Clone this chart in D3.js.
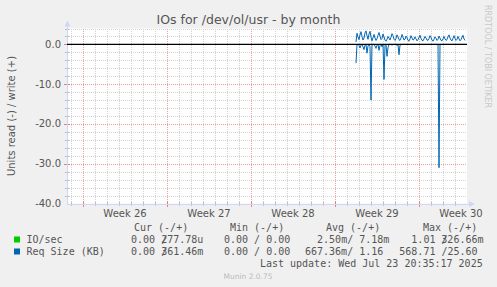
<!DOCTYPE html>
<html>
<head>
<meta charset="utf-8">
<script src="https://cdn.jsdelivr.net/npm/d3@7"></script>
<style>
  html, body { margin: 0; padding: 0; background: #f0f0f0; }
  svg { display: block; }
  .pre { white-space: pre; }
</style>
</head>
<body>
<svg id="graph" width="497" height="287"></svg>
<script>
// samples every 2 hours, starting at dataStart
const dataStart = new Date(2025, 6, 15, 18, 0);
const stepHours = 2;

// write (+) Req Size, KB
const writeVals = [
  0.6, 2.8, 1.9, 1.2, 2.4, 3.2, 2.0, 1.1, 1.6, 2.9,
  3.4, 2.2, 1.3, 2.6, 3.3, 1.8, 0.9, 1.7, 2.5, 1.6,
  1.0, 1.4, 2.3, 3.0, 2.1, 1.2, 1.5, 2.6, 1.9, 1.1,
  0.8, 1.3, 2.0, 1.6, 1.1, 1.8, 2.7, 2.2, 1.3, 1.0,
  1.5, 2.4, 1.9, 1.2, 1.0, 1.6, 2.5, 1.8, 1.1, 1.3,
  2.1, 1.7, 1.0, 0.8, 1.4, 2.2, 1.6, 1.1, 1.3, 1.9,
  1.4, 0.9, 1.2, 1.8, 2.3, 1.5, 1.0, 0.9, 1.4, 2.0,
  1.6, 1.1, 1.0, 1.5, 2.2, 1.7, 1.1, 0.8, 1.3, 1.9,
  1.5, 1.0, 1.3, 2.1, 1.6, 1.0, 0.9, 1.4, 2.0, 1.4,
  1.0, 1.2, 1.9, 2.4, 1.6, 1.1, 0.9, 1.5, 2.2, 1.5,
  1.0, 1.3, 2.0, 1.4, 0.9, 1.2, 1.8, 2.3, 1.4, 1.0
];

// read (-) Req Size, KB (drawn below zero)
const readVals = [
  4.7, 0.0, 0.0, 0.3, 0.9, 0.2, 0.0, 0.6, 1.3, 0.2,
  0.0, 2.2, 0.4, 0.0, 0.5, 14.0, 0.2, 0.0, 0.0, 0.4,
  1.0, 0.2, 0.0, 1.5, 0.3, 0.0, 0.6, 0.0, 8.8, 0.3,
  0.0, 3.0, 0.8, 0.0, 0.0, 0.0, 0.2, 0.0, 0.0, 0.0,
  0.0, 0.3, 0.0, 2.6, 0.2, 0.0, 0.0, 0.0, 0.0, 0.0,
  0.0, 0.0, 0.0, 0.0, 0.0, 0.0, 0.0, 0.0, 0.0, 0.0,
  0.0, 0.0, 0.0, 0.0, 0.0, 0.0, 0.0, 0.0, 0.0, 0.0,
  0.0, 0.0, 0.0, 0.0, 0.0, 0.0, 0.0, 0.0, 0.0, 0.0,
  0.0, 0.0, 0.0, 31.0, 0.0, 0.0, 0.0, 0.0, 0.0, 0.0,
  0.0, 0.0, 0.0, 0.0, 0.0, 0.0, 0.0, 0.0, 0.0, 0.0,
  0.0, 0.0, 0.0, 0.0, 0.0, 0.0, 0.0, 0.0, 0.0, 0.0
];

const yTicks = [0, -10, -20, -30, -40];
const legendHeaders = ["Cur (-/+)", "Min (-/+)", "Avg (-/+)", "Max (-/+)"];
const seriesNames = ["IO/sec", "Req Size (KB)"];
const seriesColors = ["#00cc00", "#0066b3"];
const curRead = ["  0.00 /", "  0.00 /"], curWrite = ["277.78u", "361.46m"];
const minCol = ["0.00 / 0.00", "0.00 / 0.00"];
const avgCol = ["2.50m/ 7.18m", "667.36m/ 1.16 "];
const maxRead = ["  1.01 /", "568.71 /"], maxWrite = ["326.66m", "25.60 "];

const svg = d3.select("#graph");
const W = 497, H = 287;
const pL = 67, pR = 467, pT = 28.5, pB = 203.5;
const sans = "DejaVu Sans, sans-serif";
const mono = "DejaVu Sans Mono, monospace";
const fontCol = "#555";

svg.append("rect").attr("width", W).attr("height", H).attr("fill", "#f0f0f0");

const x = d3.scaleTime()
  .domain([new Date(2025, 5, 21, 16, 0), new Date(2025, 6, 25, 0, 0)])
  .range([pL, pR]);
const y = d3.scaleLinear().domain([-40, 4]).range([pB, pT]);

svg.append("rect")
  .attr("x", pL).attr("y", pT)
  .attr("width", pR - pL).attr("height", pB - pT)
  .attr("fill", "#fff");

// grid
const g = svg.append("g").attr("shape-rendering", "crispEdges");
const days = d3.timeDay.range(x.domain()[0], x.domain()[1]);
const mondays = d3.timeMonday.range(x.domain()[0], x.domain()[1]);
days.filter(d => d.getDay() !== 1).forEach(d => {
  const px = Math.round(x(d)) + 0.5;
  g.append("line").attr("x1", px).attr("x2", px).attr("y1", pT).attr("y2", pB)
    .attr("stroke", "#d4d4d4").attr("stroke-dasharray", "1,1");
  g.append("line").attr("x1", px).attr("x2", px).attr("y1", pB - 2).attr("y2", pB + 2)
    .attr("stroke", "#bbb");
});
d3.range(-38, 5, 2).filter(v => v % 10 !== 0).forEach(v => {
  const py = Math.round(y(v)) + 0.5;
  g.append("line").attr("x1", pL).attr("x2", pR).attr("y1", py).attr("y2", py)
    .attr("stroke", "#d4d4d4").attr("stroke-dasharray", "1,1");
  g.append("line").attr("x1", pL - 2).attr("x2", pL + 2).attr("y1", py).attr("y2", py)
    .attr("stroke", "#bbb");
});
mondays.forEach(d => {
  const px = Math.round(x(d)) + 0.5;
  g.append("line").attr("x1", px).attr("x2", px).attr("y1", pT).attr("y2", pB)
    .attr("stroke", "#e8a0a0").attr("stroke-dasharray", "1,1");
  g.append("line").attr("x1", px).attr("x2", px).attr("y1", pB - 3).attr("y2", pB + 3)
    .attr("stroke", "#e08080");
});
yTicks.filter(v => v > -40).forEach(v => {
  const py = Math.round(y(v)) + 0.5;
  g.append("line").attr("x1", pL).attr("x2", pR).attr("y1", py).attr("y2", py)
    .attr("stroke", "#e8a0a0").attr("stroke-dasharray", "1,1");
  g.append("line").attr("x1", pL - 3).attr("x2", pL + 3).attr("y1", py).attr("y2", py)
    .attr("stroke", "#e08080");
});

// axes with arrows
const axisCol = "#cfd6f8";
g.append("line").attr("x1", pL - 0.5).attr("x2", pR + 4).attr("y1", pB + 0.5).attr("y2", pB + 0.5)
  .attr("stroke", axisCol);
g.append("line").attr("x1", pL + 0.5).attr("x2", pL + 0.5).attr("y1", pB + 1).attr("y2", pT - 4)
  .attr("stroke", axisCol);
svg.append("path").attr("d", `M${pR + 2},${pB - 2.5}L${pR + 8},${pB + 0.5}L${pR + 2},${pB + 3.5}Z`)
  .attr("fill", axisCol);
svg.append("path").attr("d", `M${pL - 2.5},${pT - 2}L${pL + 0.5},${pT - 8}L${pL + 3.5},${pT - 2}Z`)
  .attr("fill", axisCol);

// y tick labels
svg.append("g").selectAll("text").data(yTicks).join("text")
  .attr("x", 61).attr("y", d => y(d) + 3.5)
  .attr("text-anchor", "end")
  .attr("font-family", sans).attr("font-size", 10).attr("fill", fontCol)
  .text(d => d.toFixed(1));

// week labels
const fmtWeek = d3.timeFormat("%V");
svg.append("g").selectAll("text").data(mondays).join("text")
  .attr("x", d => x(d3.timeHour.offset(d, 84)))
  .attr("y", 216.5)
  .attr("text-anchor", "middle")
  .attr("font-family", sans).attr("font-size", 10).attr("fill", fontCol)
  .text(d => "Week " + +fmtWeek(d));

// series
const t = i => d3.timeHour.offset(dataStart, i * stepHours);
const line = d3.line().x(d => x(d[0])).y(d => y(d[1]));
svg.append("path")
  .attr("d", line(readVals.map((v, i) => [t(i), -v])))
  .attr("fill", "none").attr("stroke", seriesColors[1]).attr("stroke-width", 1);
svg.append("path")
  .attr("d", line(writeVals.map((v, i) => [t(i), v])))
  .attr("fill", "none").attr("stroke", seriesColors[1]).attr("stroke-width", 1);

// zero rule
svg.append("line").attr("x1", pL).attr("x2", pR).attr("y1", y(0)).attr("y2", y(0))
  .attr("stroke", "#000").attr("stroke-width", 1.2);

// title and labels
svg.append("text").attr("x", 248.5).attr("y", 24)
  .attr("text-anchor", "middle")
  .attr("font-family", sans).attr("font-size", 12.5).attr("fill", fontCol)
  .text("IOs for /dev/ol/usr - by month");
svg.append("text").attr("transform", "translate(15,116) rotate(-90)")
  .attr("text-anchor", "middle")
  .attr("font-family", sans).attr("font-size", 10).attr("fill", fontCol)
  .text("Units read (-) / write (+)");
svg.append("text").attr("transform", "translate(485,5) rotate(90)")
  .attr("font-family", sans).attr("font-size", 8).attr("fill", "#c8c8c8")
  .text("RRDTOOL / TOBI OETIKER");

// legend
const lg = svg.append("g").attr("font-family", mono).attr("font-size", 10).attr("fill", fontCol);
const txt = (xx, yy, s, anchor) => lg.append("text").attr("class", "pre")
  .attr("xml:space", "preserve")
  .attr("x", xx).attr("y", yy).attr("text-anchor", anchor || "start").text(s);
const headX = [134, 230, 326, 423];
legendHeaders.forEach((h, i) => txt(headX[i], 231, h));
seriesNames.forEach((n, i) => {
  const yy = 243 + i * 12;
  svg.append("rect").attr("x", 14).attr("y", yy - 6.5).attr("width", 6).attr("height", 6)
    .attr("fill", seriesColors[i]);
  txt(26.5, yy, n);
  txt(119, yy, curRead[i]);
  txt(203.3, yy, curWrite[i], "end");
  txt(224, yy, minCol[i]);
  txt(389.3, yy, avgCol[i], "end");
  txt(399.3, yy, maxRead[i]);
  txt(483.5, yy, maxWrite[i], "end");
});
txt(482.7, 267, "Last update: Wed Jul 23 20:35:17 2025", "end");
svg.append("text").attr("x", 248).attr("y", 279).attr("text-anchor", "middle")
  .attr("font-family", sans).attr("font-size", 7.5).attr("fill", "#bbb")
  .text("Munin 2.0.75");
</script>
</body>
</html>
